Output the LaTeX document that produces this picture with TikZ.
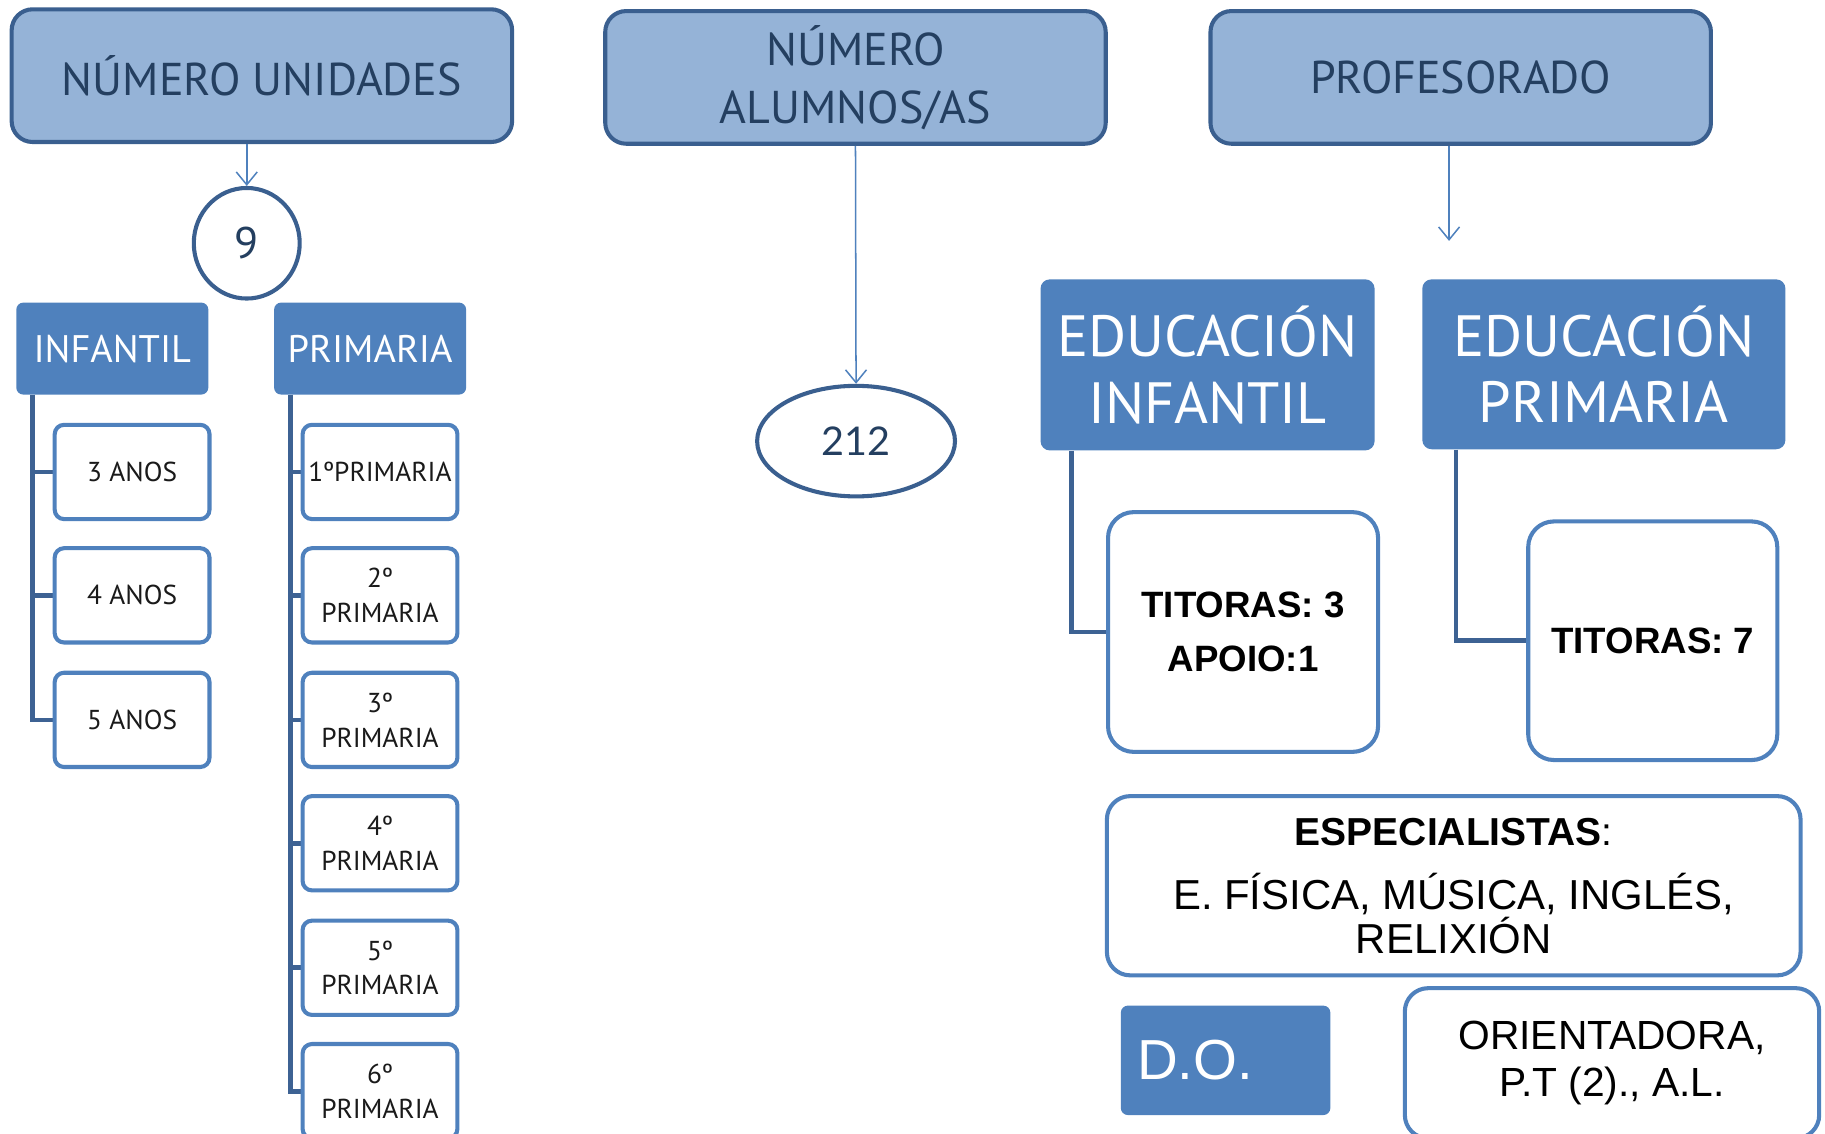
\documentclass[tikz,border=0pt]{standalone}
\usepackage{fontspec}
\setmainfont{Liberation Sans}
\newfontfamily\comicfont{PT Sans}
\newfontfamily\thinfont{Lato}
\usetikzlibrary{arrows.meta,shapes.geometric,backgrounds}
\definecolor{hdrfill}{HTML}{95B3D7}
\definecolor{hdrline}{HTML}{3A5F8F}
\definecolor{accent}{HTML}{4F81BD}
\definecolor{navy}{HTML}{243F60}
\definecolor{treeline}{HTML}{3D6293}
\definecolor{ink}{HTML}{1A1A1A}
\begin{document}
\begin{tikzpicture}[x=1pt,y=-1pt,
  topbox/.style={draw=hdrline, fill=hdrfill, line width=3.5pt, rounded corners=18pt,
    inner sep=0pt, minimum width=430pt, minimum height=114pt, text=navy, align=center,
    font=\comicfont\fontsize{39.5}{50}\selectfont},
  oval/.style={ellipse, draw=hdrline, fill=white, line width=3.5pt, inner sep=0pt, text=navy},
  hdr/.style={fill=accent, rounded corners=6pt, inner sep=0pt, text=white, align=center},
  childbox/.style={draw=accent, fill=white, line width=3.5pt, rounded corners=8pt,
    inner sep=0pt, minimum width=133pt, minimum height=81pt, text=ink, align=center,
    font=\comicfont\fontsize{23.5}{30}\selectfont},
  infobox/.style={draw=accent, fill=white, line width=3.5pt, rounded corners=22pt,
    inner sep=0pt, align=center, text=black},
  arr/.style={draw=accent, line width=1.3pt,
    -{Straight Barb[length=11pt,width=18pt,line width=1.3pt]}},
  tree/.style={draw=treeline, line width=4pt}
]
\useasboundingbox (0,0) rectangle (1568,974);

% top headers
\node[topbox] (nu) at (225,65) {NÚMERO UNIDADES};
\node[topbox] (na) at (735,66.5) {NÚMERO\\ALUMNOS/AS};
\node[topbox] (prof) at (1255,66.5) {PROFESORADO};

% units
\node[oval, minimum width=91pt, minimum height=95pt,
  font=\comicfont\fontsize{38}{40}\selectfont] (c9) at (212,209) {9};
\draw[arr] (c9.north |- nu.south) -- (c9.north);

\node[hdr, minimum width=165pt, minimum height=79pt,
  font=\comicfont\fontsize{33}{36}\selectfont] (inf) at (96.5,299.5) {INFANTIL};
\node[hdr, minimum width=165pt, minimum height=79pt,
  font=\comicfont\fontsize{33}{36}\selectfont] (pri) at (318,299.5) {PRIMARIA};

\node[childbox] (i1) at (113.5,405.5) {3 ANOS};
\node[childbox] (i2) at (113.5,511.5) {4 ANOS};
\node[childbox] (i3) at (113.5,618.5) {5 ANOS};

\node[childbox] (p1) at (326.5,405.5) {1ºPRIMARIA};
\node[childbox] (p2) at (326.5,511.5) {2º\\PRIMARIA};
\node[childbox] (p3) at (326.5,618.5) {3º\\PRIMARIA};
\node[childbox] (p4) at (326.5,724.5) {4º\\PRIMARIA};
\node[childbox] (p5) at (326.5,831.5) {5º\\PRIMARIA};
\node[childbox] (p6) at (326.5,937.5) {6º\\PRIMARIA};

% students
\node[oval, minimum width=170pt, minimum height=95pt,
  font=\thinfont\fontsize{34}{40}\selectfont] (e212) at (735.5,379) {212};
\draw[arr] (na.south) -- (e212.north);

% teachers
\coordinate (pe) at (1245,207);
\draw[arr] (pe |- prof.south) -- (pe);

\node[hdr, rounded corners=8pt, minimum width=287pt, minimum height=147pt,
  font=\comicfont\fontsize{50}{57}\selectfont] (ei) at (1037.5,313.5) {EDUCACIÓN\\INFANTIL};
\node[hdr, rounded corners=8pt, minimum width=312pt, minimum height=146pt,
  font=\comicfont\fontsize{50}{57}\selectfont] (ep) at (1378,313) {EDUCACIÓN\\PRIMARIA};

\node[infobox, minimum width=232pt, minimum height=206pt,
  font=\bfseries\fontsize{31.5}{46}\selectfont] (t3) at (1068,543) {TITORAS: 3\\APOIO:1};
\node[infobox, minimum width=214pt, minimum height=205pt,
  font=\bfseries\fontsize{31.5}{46}\selectfont] (t7) at (1420,550.5) {TITORAS: 7};

\node[infobox, rounded corners=20pt, minimum width=596pt, minimum height=154pt,
  font=\fontsize{36}{38}\selectfont] (esp) at (1249,761)
  {{\fontsize{33.5}{38}\selectfont\textbf{ESPECIALISTAS}:}\\[17pt]E. FÍSICA, MÚSICA, INGLÉS,\\RELIXIÓN};

\node[hdr, minimum width=180pt, minimum height=94pt, text width=152pt, align=left,
  font=\fontsize{48.5}{50}\selectfont] (do) at (1053,911) {D.O.};

\node[infobox, rounded corners=20pt, minimum width=356pt, minimum height=129pt,
  font=\fontsize{35}{40}\selectfont] (or) at (1385,913.5) {ORIENTADORA,\\P.T (2)., A.L.};

% tree connectors
\begin{scope}[on background layer]
\foreach \c in {i1,i2,i3}
  \draw[tree] ([xshift=14pt]inf.south west) |- (\c.west);
\foreach \c in {p1,p2,p3,p4,p5,p6}
  \draw[tree] ([xshift=14.5pt]pri.south west) |- (\c.west);
\draw[tree] ([xshift=27pt]ei.south west) |- (t3.west);
\draw[tree] ([xshift=29pt]ep.south west) |- (t7.west);
\end{scope}
\end{tikzpicture}
\end{document}
